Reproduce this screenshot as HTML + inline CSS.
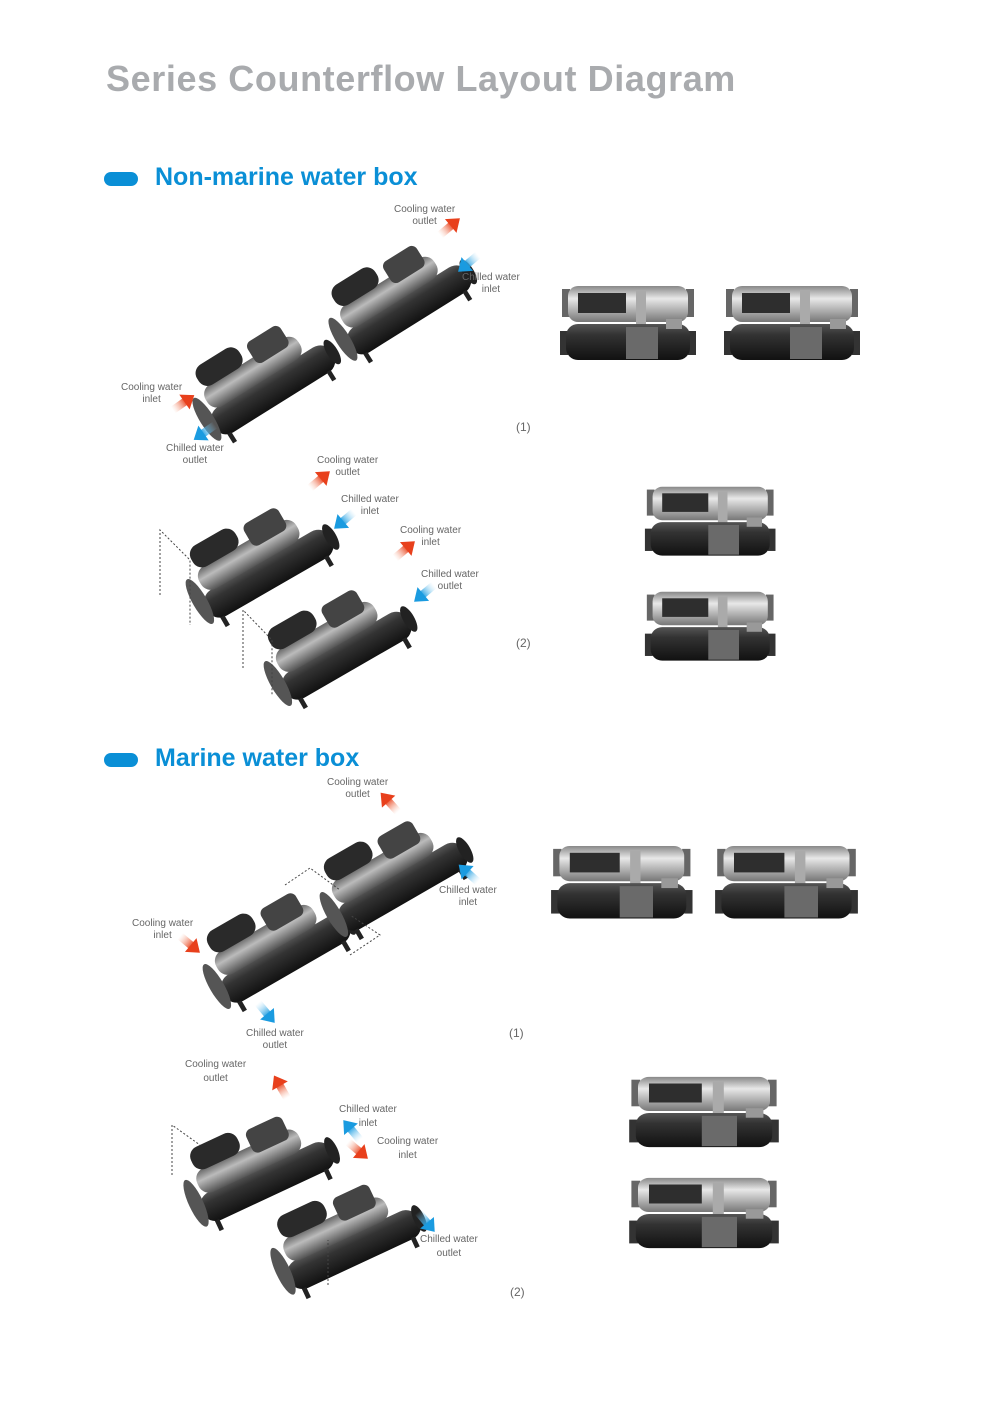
<!DOCTYPE html>
<html><head><meta charset="utf-8"><style>
body{margin:0;background:#fff;}
#p{position:relative;width:992px;height:1403px;overflow:hidden;font-family:"Liberation Sans",sans-serif;}
.t{position:absolute;left:106px;top:58px;font-size:36px;font-weight:bold;color:#a9abae;white-space:nowrap;letter-spacing:0.6px}
.h{position:absolute;left:155px;font-size:25px;font-weight:bold;color:#0a8fd6;white-space:nowrap}
.pill{position:absolute;left:104px;width:34px;height:14px;border-radius:7px;background:#0a8fd6}
.l{position:absolute;font-size:10px;color:#666;text-align:center;line-height:12px;white-space:nowrap}
svg{position:absolute;left:0;top:0}
</style></head><body><div id="p">
<div class="t">Series Counterflow Layout Diagram</div>
<div class="pill" style="top:172px"></div><div class="h" style="top:163px">Non-marine water box</div>
<div class="pill" style="top:753px"></div><div class="h" style="top:744px">Marine water box</div>

<svg width="992" height="1403" viewBox="0 0 992 1403">
<defs>
<linearGradient id="lg" x1="0" y1="0" x2="0" y2="1"><stop offset="0" stop-color="#888"/><stop offset=".35" stop-color="#e8e8e8"/><stop offset="1" stop-color="#777"/></linearGradient>
<linearGradient id="lg2" x1="0" y1="0" x2="0" y2="1"><stop offset="0" stop-color="#666"/><stop offset=".4" stop-color="#bbb"/><stop offset="1" stop-color="#555"/></linearGradient>
<linearGradient id="dg" x1="0" y1="0" x2="0" y2="1"><stop offset="0" stop-color="#555"/><stop offset=".3" stop-color="#333"/><stop offset="1" stop-color="#111"/></linearGradient>
<linearGradient id="gRed" x1="0" y1="0" x2="1" y2="0"><stop offset="0" stop-color="#f7b59a" stop-opacity="0"/><stop offset="1" stop-color="#e8401c"/></linearGradient>
<linearGradient id="gBlue" x1="0" y1="0" x2="1" y2="0"><stop offset="0" stop-color="#9fd8f5" stop-opacity="0"/><stop offset="1" stop-color="#1a9be0"/></linearGradient>
<g id="side">
<rect x="4" y="6" width="8" height="28" fill="#666"/><rect x="128" y="6" width="8" height="28" fill="#666"/>
<rect x="10" y="3" width="120" height="36" rx="10" fill="url(#lg)"/>
<rect x="20" y="10" width="48" height="20" fill="#2e2e2e"/>
<rect x="78" y="8" width="10" height="60" fill="#aaa"/>
<rect x="2" y="48" width="8" height="24" fill="#333"/><rect x="130" y="48" width="8" height="24" fill="#333"/>
<rect x="8" y="41" width="124" height="36" rx="12" fill="url(#dg)"/>
<rect x="68" y="44" width="32" height="32" fill="#6a6a6a"/>
<rect x="108" y="36" width="16" height="10" fill="#999"/>
</g>
<g id="iso">
<rect x="-90" y="8" width="180" height="38" rx="18" fill="url(#dg)"/>
<rect x="-80" y="-22" width="140" height="32" rx="14" fill="url(#lg2)"/>
<rect x="-75" y="-50" width="64" height="30" rx="13" fill="#2a2a2a"/>
<rect x="0" y="-42" width="50" height="32" rx="8" fill="#444"/>
<ellipse cx="-92" cy="14" rx="9" ry="32" fill="#555"/>
<ellipse cx="90" cy="26" rx="7" ry="18" fill="#222"/>
<rect x="-80" y="44" width="6" height="14" fill="#222"/><rect x="70" y="44" width="6" height="14" fill="#222"/>
</g>
<g id="aR"><rect x="0" y="-4" width="16" height="8" fill="url(#gRed)"/><polygon points="14,-9 26,0 14,9" fill="#e8401c"/></g>
<g id="aB"><rect x="0" y="-4" width="16" height="8" fill="url(#gBlue)"/><polygon points="14,-9 26,0 14,9" fill="#1a9be0"/></g>
</defs>

<use href="#side" transform="translate(558,283)"/>
<use href="#side" transform="translate(722,283)"/>
<use href="#side" transform="translate(643,484) scale(0.96,0.93)"/>
<use href="#side" transform="translate(643,589) scale(0.96,0.93)"/>
<use href="#side" transform="translate(549,843) scale(1.04,0.98)"/>
<use href="#side" transform="translate(713,843) scale(1.05,0.98)"/>
<use href="#side" transform="translate(627,1074) scale(1.1,0.95)"/>
<use href="#side" transform="translate(627,1175) scale(1.1,0.95)"/>

<use href="#iso" transform="translate(262,372) rotate(-32) scale(0.78)"/>
<use href="#iso" transform="translate(398,292) rotate(-32) scale(0.78)"/>
<use href="#iso" transform="translate(258,555) rotate(-30) scale(0.8)"/>
<use href="#iso" transform="translate(336,637) rotate(-30) scale(0.8)"/>
<use href="#iso" transform="translate(275,940) rotate(-30) scale(0.8)"/>
<use href="#iso" transform="translate(392,868) rotate(-30) scale(0.8)"/>
<use href="#iso" transform="translate(258,1162) rotate(-25) scale(0.8)"/>
<use href="#iso" transform="translate(345,1230) rotate(-25) scale(0.8)"/>

<g fill="none" stroke="#444" stroke-dasharray="2,2">
<polyline points="160,595 160,530 190,560 190,625"/>
<polyline points="243,668 243,610 272,640 272,695"/>
<polyline points="285,885 310,868 340,890"/>
<polyline points="350,955 380,935 350,915"/>
<polyline points="172,1175 172,1125 200,1145"/>
<polyline points="328,1285 328,1240"/>
</g>

<use href="#aR" transform="translate(440,235) rotate(-40)"/>
<use href="#aB" transform="translate(478,255) rotate(140)"/>
<use href="#aR" transform="translate(173,410) rotate(-35)"/>
<use href="#aB" transform="translate(215,425) rotate(145)"/>
<use href="#aR" transform="translate(310,488) rotate(-40)"/>
<use href="#aB" transform="translate(354,512) rotate(140)"/>
<use href="#aR" transform="translate(395,558) rotate(-40)"/>
<use href="#aB" transform="translate(434,585) rotate(140)"/>
<use href="#aR" transform="translate(398,812) rotate(-132)"/>
<use href="#aB" transform="translate(478,882) rotate(-138)"/>
<use href="#aR" transform="translate(180,936) rotate(40)"/>
<use href="#aB" transform="translate(258,1003) rotate(50)"/>
<use href="#aR" transform="translate(287,1098) rotate(-120)"/>
<use href="#aB" transform="translate(360,1140) rotate(-130)"/>
<use href="#aR" transform="translate(348,1142) rotate(40)"/>
<use href="#aB" transform="translate(418,1212) rotate(50)"/>
</svg>

<div class="l" style="left:394px;top:204px">Cooling water<br>outlet</div>
<div class="l" style="left:462px;top:272px">Chilled water<br>inlet</div>
<div class="l" style="left:121px;top:382px">Cooling water<br>inlet</div>
<div class="l" style="left:166px;top:443px">Chilled water<br>outlet</div>
<div class="l" style="left:516px;top:421px;font-size:12px">(1)</div>
<div class="l" style="left:317px;top:455px">Cooling water<br>outlet</div>
<div class="l" style="left:341px;top:494px">Chilled water<br>inlet</div>
<div class="l" style="left:400px;top:525px">Cooling water<br>inlet</div>
<div class="l" style="left:421px;top:569px">Chilled water<br>outlet</div>
<div class="l" style="left:516px;top:637px;font-size:12px">(2)</div>

<div class="l" style="left:327px;top:777px">Cooling water<br>outlet</div>
<div class="l" style="left:439px;top:885px">Chilled water<br>inlet</div>
<div class="l" style="left:132px;top:918px">Cooling water<br>inlet</div>
<div class="l" style="left:246px;top:1028px">Chilled water<br>outlet</div>
<div class="l" style="left:509px;top:1027px;font-size:12px">(1)</div>
<div class="l" style="left:185px;top:1058px;line-height:14px">Cooling water<br>outlet</div>
<div class="l" style="left:339px;top:1103px;line-height:14px">Chilled water<br>inlet</div>
<div class="l" style="left:377px;top:1135px;line-height:14px">Cooling water<br>inlet</div>
<div class="l" style="left:420px;top:1233px;line-height:14px">Chilled water<br>outlet</div>
<div class="l" style="left:510px;top:1286px;font-size:12px">(2)</div>
</div></body></html>
